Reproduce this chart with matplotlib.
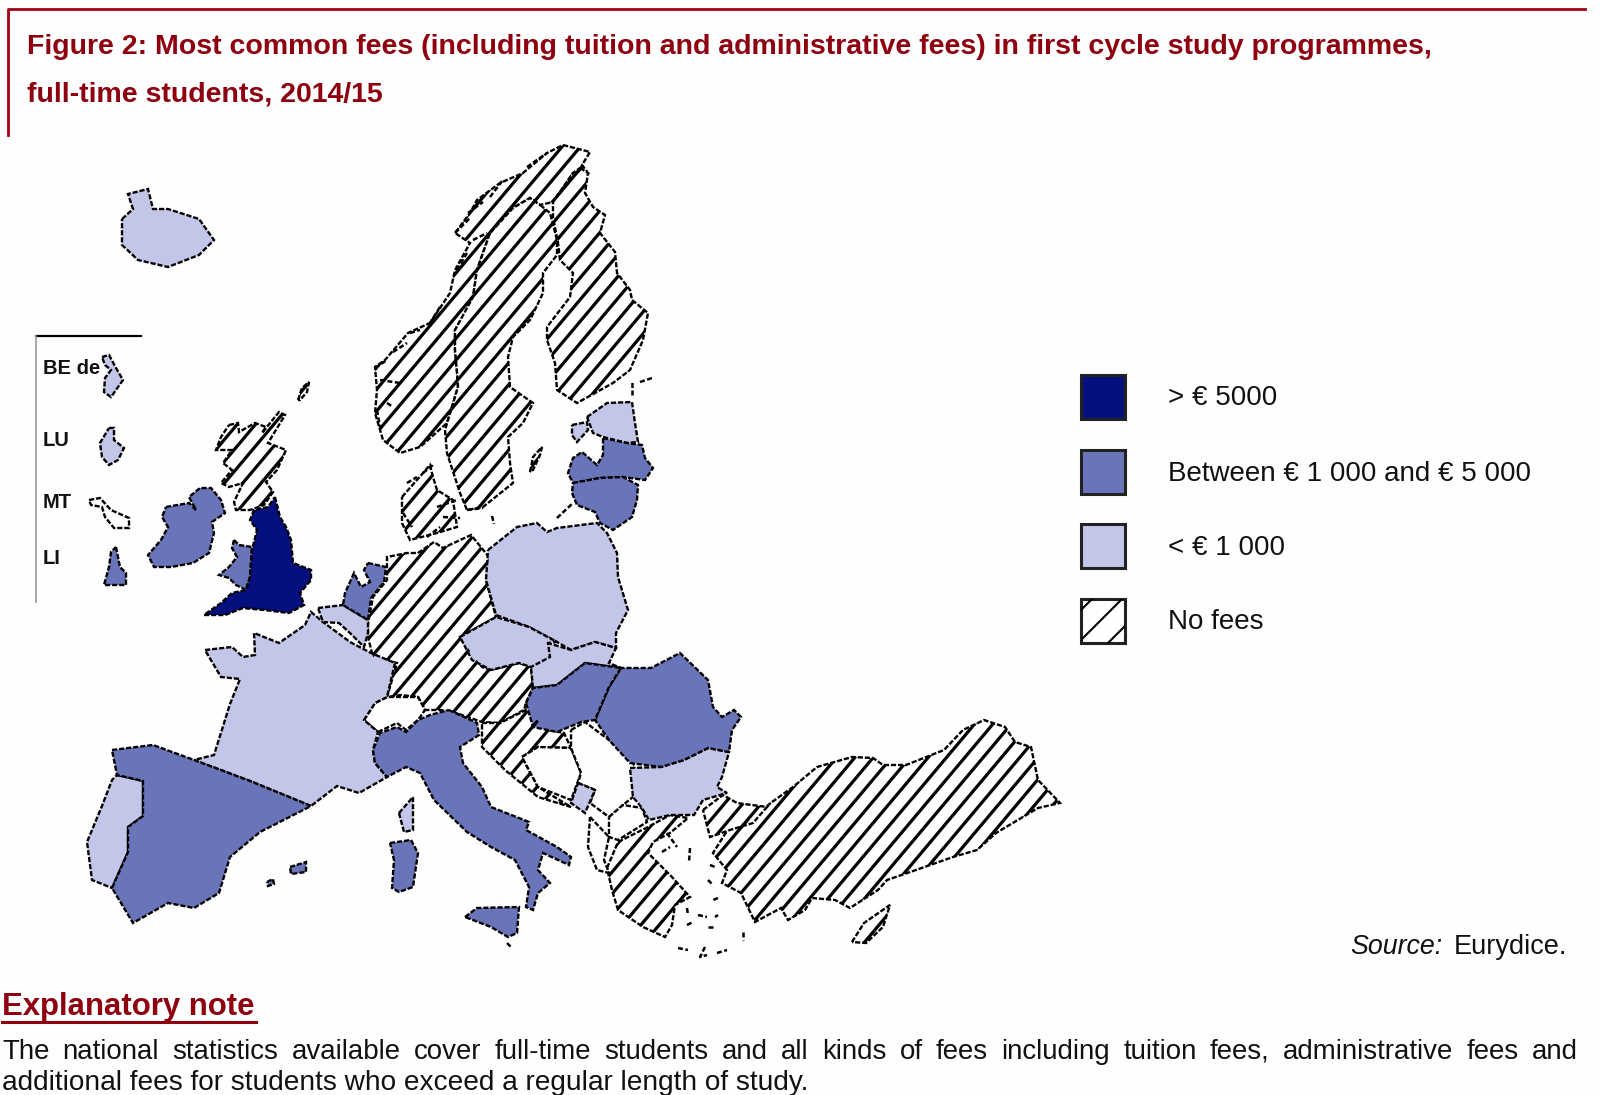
import matplotlib
matplotlib.use('Agg')
import matplotlib.pyplot as plt
from matplotlib.patches import Polygon, Rectangle

# country outlines, pixel coordinates
england = [(275,497),(280,517),(286,527),(291,540),(293,563),(311,570),(311,580),(300,593),(304,605),(289,613),(264,610),(243,608),(225,615),(204,615),(221,603),(232,593),(246,590),(250,577),(252,550),(257,530),(250,520),(254,510),(268,507)]
wales = [(234,540),(239,545),(252,547),(250,577),(246,590),(236,585),(229,578),(219,575),(229,567),(237,557),(232,548)]
scotland = [(229,425),(238,423),(239,432),(255,423),(266,427),(262,433),(279,412),(285,415),(268,443),(286,450),(277,470),(266,482),(273,492),(264,505),(250,510),(236,510),(234,502),(243,483),(229,487),(221,483),(232,470),(223,463),(232,450),(216,450),(221,437)]
shetland = [(298,400),(302,388),(309,382),(307,392),(300,400)]
ireland = [(166,507),(189,503),(196,510),(189,497),(200,488),(211,488),(221,500),(225,513),(212,522),(214,533),(209,553),(193,563),(171,567),(154,567),(148,555),(161,540),(168,527),(162,517)]
iceland = [(122,219),(133,209),(128,194),(148,189),(153,209),(168,209),(199,219),(214,240),(199,255),(168,267),(138,260),(122,245)]
norway = [(563,145),(590,152),(582,165),(588,173),(573,173),(560,192),(553,202),(540,205),(530,198),(513,208),(490,233),(477,270),(473,297),(467,310),(455,330),(455,350),(457,372),(458,387),(447,423),(420,447),(400,453),(383,440),(375,413),(377,390),(375,367),(385,360),(408,333),(430,323),(450,293),(455,270),(470,243),(455,233),(470,213),(477,200),(500,183),(523,173),(547,153)]
sweden = [(540,205),(550,213),(557,240),(557,255),(543,273),(543,293),(530,320),(513,337),(508,357),(510,387),(533,403),(523,423),(508,437),(510,463),(513,483),(483,507),(467,510),(460,493),(447,453),(445,430),(458,387),(457,372),(455,350),(455,330),(473,297),(477,270),(490,233),(513,208),(530,198)]
finland = [(580,168),(588,173),(585,193),(593,207),(605,215),(600,233),(615,252),(617,273),(630,290),(632,300),(648,313),(643,340),(630,370),(613,383),(577,403),(557,390),(555,363),(547,340),(547,327),(570,297),(573,273),(560,260),(558,243),(553,217),(553,202),(560,192),(573,173)]
estonia = [(587,417),(607,403),(632,402),(635,423),(638,442),(627,443),(603,437),(593,433)]
saaremaa = [(572,425),(587,422),(588,430),(577,442),(572,435)]
latvia = [(603,438),(627,443),(642,445),(645,458),(653,468),(645,480),(623,477),(600,478),(573,483),(568,473),(573,458),(582,452),(597,465),(603,455)]
lithuania = [(573,483),(600,478),(623,477),(638,485),(637,500),(632,517),(613,530),(600,523),(595,512),(577,505),(572,493)]
gotland = [(530,472),(533,457),(542,447),(540,455),(533,470)]
denmark = [(402,497),(430,465),(433,477),(437,490),(453,500),(457,527),(437,533),(410,540),(402,523)]
poland = [(488,550),(517,527),(537,523),(547,532),(557,528),(597,523),(607,533),(617,553),(618,577),(628,610),(616,633),(616,648),(595,642),(571,650),(557,642),(529,627),(496,615),(486,580)]
germany_austria = [(418,553),(434,542),(443,548),(471,535),(489,557),(486,580),(496,617),(460,637),(482,667),(491,670),(519,663),(531,667),(533,687),(526,703),(524,710),(500,723),(482,722),(456,713),(441,710),(425,710),(418,697),(401,695),(387,697),(397,663),(373,657),(368,637),(368,623),(373,597),(387,580),(387,557),(407,553)]
switzerland = [(364,720),(375,703),(387,697),(418,697),(425,710),(418,720),(406,730),(397,723),(378,732)]
croatia = [(482,723),(500,723),(526,710),(548,730),(564,733),(571,748),(538,747),(522,757),(538,787),(571,807),(538,797),(505,770),(482,747)]
bosnia = [(522,757),(538,747),(571,748),(581,773),(571,800),(538,787)]
serbia = [(571,730),(585,722),(609,740),(628,753),(635,767),(633,797),(623,805),(609,817),(590,803),(595,790),(578,783),(581,773),(571,748)]
montenegro = [(578,783),(595,790),(585,813),(571,803)]
albania = [(590,817),(609,837),(604,860),(609,873),(597,870),(588,847)]
fyrom = [(609,817),(623,805),(642,808),(647,822),(618,840),(609,837)]
bulgaria = [(630,768),(661,767),(684,760),(708,748),(729,752),(722,777),(717,787),(727,793),(703,800),(694,815),(670,815),(649,820),(642,808),(633,797)]
romania = [(595,720),(609,687),(621,668),(651,668),(680,653),(708,680),(713,707),(722,717),(734,710),(741,717),(732,730),(729,752),(708,748),(684,760),(661,767),(630,763),(609,740)]
hungary = [(526,703),(533,688),(557,685),(585,663),(621,668),(609,687),(595,720),(581,722),(557,732),(533,727)]
slovakia = [(531,667),(548,643),(571,650),(595,642),(616,648),(609,663),(621,668),(585,663),(557,685),(533,688)]
czechia = [(460,637),(496,617),(529,627),(557,642),(548,643),(550,657),(531,667),(519,663),(491,670),(472,660)]
italy = [(449,710),(477,723),(479,735),(460,747),(463,763),(482,787),(491,807),(529,822),(526,830),(557,847),(571,857),(569,865),(543,853),(538,870),(550,883),(538,893),(533,910),(526,907),(529,887),(515,860),(491,847),(467,832),(434,800),(420,773),(406,767),(387,777),(375,763),(373,750),(380,733),(397,727),(406,732),(418,720),(430,715)]
sicily = [(465,917),(477,908),(519,907),(517,933),(508,937),(491,927)]
sardinia = [(390,843),(411,840),(418,853),(413,887),(399,892),(392,888),(394,860)]
corsica = [(399,813),(413,797),(413,830),(404,832)]
spain = [(112,750),(153,745),(194,760),(250,781),(311,806),(260,832),(230,857),(219,893),(194,908),(168,903),(133,923),(112,888),(128,852),(128,827),(143,816),(143,781),(117,775)]
portugal = [(117,775),(143,781),(143,816),(128,827),(128,852),(112,888),(92,880),(87,842),(102,806),(112,780)]
mallorca = [(290,867),(306,862),(306,872),(291,874)]
ibiza = [(267,882),(273,879),(274,884),(268,886)]
france = [(205,650),(232,647),(243,657),(255,655),(254,633),(279,643),(305,625),(311,612),(323,622),(350,642),(371,653),(395,663),(387,697),(375,703),(364,720),(378,732),(373,750),(375,763),(387,777),(359,793),(337,786),(311,806),(250,781),(194,760),(214,755),(230,704),(240,679),(221,677)]
belgium = [(318,608),(343,605),(368,620),(368,633),(364,647),(350,633),(339,623),(323,622)]
netherlands = [(368,563),(386,567),(384,582),(371,598),(368,620),(343,605),(345,593),(354,573),(361,587),(370,582),(364,570)]
turkey = [(772,802),(793,787),(817,767),(852,757),(873,758),(883,765),(906,765),(944,750),(963,730),(984,720),(1005,727),(1015,742),(1031,747),(1038,780),(1060,803),(1038,808),(996,833),(977,850),(953,857),(916,870),(887,880),(878,890),(850,908),(835,900),(812,898),(805,910),(788,920),(781,908),(755,922),(741,893),(722,883),(727,870),(713,853),(732,823),(746,823)]
thrace = [(703,810),(723,795),(737,803),(767,807),(753,823),(730,830),(710,837)]
greece = [(607,868),(618,842),(648,827),(670,815),(688,818),(670,833),(653,842),(648,853),(672,877),(690,897),(675,905),(672,925),(665,937),(643,927),(618,910),(612,890)]
cyprus = [(852,942),(864,923),(890,905),(883,927),(866,943)]

# inset countries
be_de = [(102,357),(109,355),(116,368),(123,380),(111,397),(104,392),(105,378),(111,370),(105,365)]
lu = [(109,428),(114,428),(114,440),(124,448),(118,460),(109,465),(102,457),(100,443)]
mt = [(89,500),(100,498),(111,510),(129,518),(129,528),(114,528),(105,517),(102,507),(91,505)]
li = [(116,547),(120,567),(126,573),(126,585),(104,585),(109,567),(111,552)]
inset_names = ['BE de', 'LU', 'MT', 'LI']

# fee classes
over_5000 = [england]
from_1000 = [wales, ireland, latvia, lithuania, romania, hungary, italy, sicily, sardinia, spain, mallorca, ibiza, netherlands, li]
under_1000 = [iceland, estonia, saaremaa, poland, slovakia, czechia, bulgaria, corsica, portugal, france, belgium, montenegro, be_de, lu]
no_fees = [scotland, shetland, norway, sweden, finland, gotland, denmark, germany_austria, croatia, turkey, thrace, greece, cyprus]
no_data = [switzerland, bosnia, serbia, albania, fyrom, mt]

# coast fragments and small islands
coast_bits = [[(557,518),(573,503)], [(640,382),(652,378)], [(632,395),(632,382)], [(507,943),(512,948)], [(492,516),(494,524)],
              [(375,368),(387,360)], [(380,380),(400,383)], [(393,352),(407,343)], [(410,333),(420,330)], [(377,410),(380,427)],
              [(387,403),(393,407)], [(455,233),(470,218)], [(468,213),(483,202)], [(490,197),(503,180)], [(527,167),(547,153)],
              [(457,270),(467,253)], [(473,240),(487,233)], [(440,307),(430,323)],
              [(423,473),(433,465)], [(407,483),(417,477)], [(403,513),(412,527)], [(437,507),(457,500)], [(443,517),(460,518)],
              [(427,537),(440,527)], [(467,510),(483,508)],
              [(667,833),(677,847)], [(662,852),(670,847)], [(690,848),(689,862)], [(710,865),(715,867)], [(708,880),(713,885)],
              [(718,898),(713,900)], [(687,908),(688,915)], [(715,917),(718,915)], [(698,915),(707,917)], [(687,925),(693,922)],
              [(708,927),(715,927)], [(743,932),(743,940)], [(678,948),(688,950)], [(705,947),(700,957),(707,955)], [(717,953),(727,950)]]

legend_labels = ['> € 5000', 'Between € 1 000 and € 5 000', '< € 1 000', 'No fees']
title_lines = ['Figure 2: Most common fees (including tuition and administrative fees) in first cycle study programmes,',
               'full-time students, 2014/15']
note_lines = ['The national statistics available cover full-time students and all kinds of fees including tuition fees, administrative fees and',
              'additional fees for students who exceed a regular length of study.']

DARK = '#05107e'
MID = '#6a74b8'
LIGHT = '#c3c6e8'
RED = '#8e0010'
BG = '#fdfefd'

plt.rcParams['font.family'] = ['Liberation Sans']

fig = plt.figure(figsize=(16, 10.95), dpi=100, facecolor=BG)
ax = fig.add_axes([0, 0, 1, 1])
ax.set_xlim(0, 1600)
ax.set_ylim(1095, 0)
ax.axis('off')

edge_style = dict(edgecolor='black', linewidth=1.7, linestyle=(0, (2.2, 0.8)))


def add_stripes(patch, slope, step, start, lw):
    # diagonal lines clipped to the patch, y = start + k*step - slope*x
    x0, x1 = 0, 1600
    k = int((0 - start) / step) - 1
    while start + k * step - slope * x1 < 1095:
        c = start + k * step
        line, = ax.plot([x0, x1], [c - slope * x0, c - slope * x1], color='black', lw=lw, solid_capstyle='butt')
        line.set_clip_path(patch)
        k += 1


for shape in no_fees:
    patch = ax.add_patch(Polygon(shape, facecolor=BG, **edge_style))
    add_stripes(patch, 1.19, 21.8, 881, 2.3)
for shape in no_data:
    ax.add_patch(Polygon(shape, facecolor=BG, **edge_style))
for shape in under_1000:
    ax.add_patch(Polygon(shape, facecolor=LIGHT, **edge_style))
for shape in from_1000:
    ax.add_patch(Polygon(shape, facecolor=MID, **edge_style))
for shape in over_5000:
    ax.add_patch(Polygon(shape, facecolor=DARK, **edge_style))

for bit in coast_bits:
    ax.plot([p[0] for p in bit], [p[1] for p in bit], color='black', lw=1.8, ls=(0, (2, 1)))

# inset box
ax.plot([36, 141], [336, 336], color='black', lw=1.6)
ax.plot([36, 36], [336, 602], color='#999999', lw=1.2)
for name, y in zip(inset_names, [369, 441, 502, 559]):
    ax.text(43, y, name, fontsize=14.5, fontweight='bold', va='center', color='#111111')

# header frame and title
ax.plot([8, 8, 1585], [135, 9, 9], color='#a00010', lw=2)
for line, y in zip(title_lines, [47, 95]):
    ax.text(27, y, line, fontsize=20.5, fontweight='bold', color=RED, va='center')

# legend
for i, (fill, y) in enumerate(zip([DARK, MID, LIGHT, BG], [375, 450, 524, 599])):
    box = ax.add_patch(Rectangle((1081, y), 44, 44, facecolor=fill, edgecolor='#222222', linewidth=2.2))
    if i == 3:
        add_stripes(box, 1, 30, 1721, 1.5)
for label, y in zip(legend_labels, [398, 474, 548, 622]):
    ax.text(1168, y, label, fontsize=19.95, va='center', color='#111111')

# source and note
ax.text(1350, 947, 'Source:', fontsize=19.3, style='italic', va='center', color='#111111')
ax.text(1454, 947, 'Eurydice.', fontsize=19.5, va='center', color='#111111')
ax.text(2, 1007, 'Explanatory note', fontsize=22.4, fontweight='bold', color=RED, va='center')
ax.plot([2, 256], [1022, 1022], color=RED, lw=2.2)

# first note line is justified, second is not
renderer = fig.canvas.get_renderer()
words = note_lines[0].split(' ')
word_texts = [ax.text(2, 1052, w, fontsize=19.9, va='center', color='#111111') for w in words]
widths = [t.get_window_extent(renderer).width for t in word_texts]
gap = (1578 - 2 - sum(widths)) / (len(words) - 1)
x = 2
for t, w in zip(word_texts, widths):
    t.set_x(x)
    x += w + gap
ax.text(2, 1083, note_lines[1], fontsize=20.2, va='center', color='#111111')

fig.savefig('out.png', dpi=100, facecolor=BG)
